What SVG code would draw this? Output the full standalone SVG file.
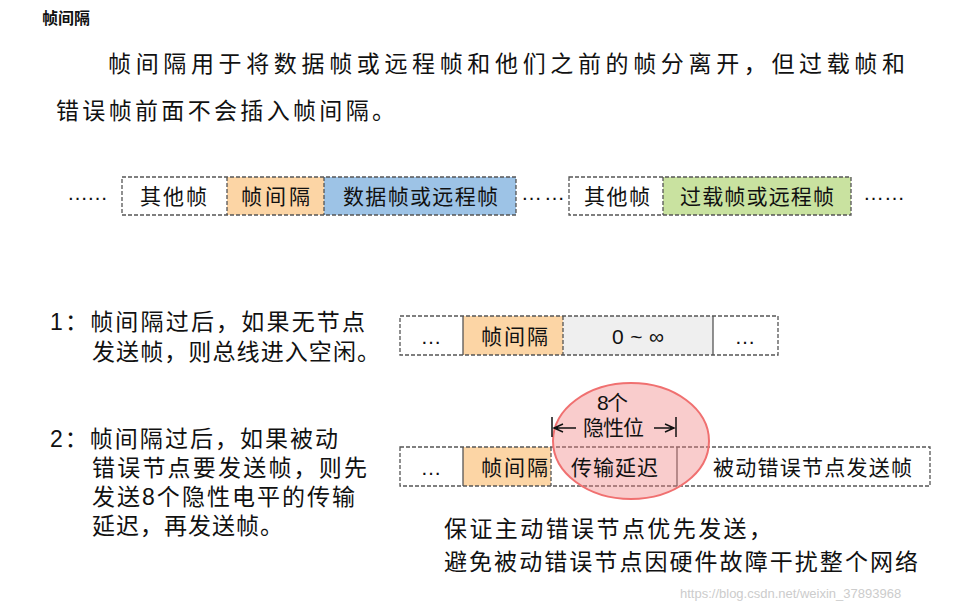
<svg xmlns="http://www.w3.org/2000/svg" width="962" height="613" viewBox="0 0 962 613">
<style>
text{font-family:"Liberation Sans","Noto Sans CJK SC",sans-serif;fill:#111}
.b{stroke:#555;stroke-width:1.3;stroke-dasharray:4 2}
.s{stroke:#555;stroke-width:1.3}
.t{font-size:21px}
.p{font-size:23px}
</style>
<rect width="962" height="613" fill="#fff"/>
<text x="42" y="24" font-size="16" font-weight="bold" font-family="Noto Sans CJK SC,serif">帧间隔</text>
<text x="108" y="72" class="p" font-size="24" textLength="797">帧间隔用于将数据帧或远程帧和他们之前的帧分离开，但过载帧和</text>
<text x="56" y="119" class="p" font-size="24" textLength="339">错误帧前面不会插入帧间隔。</text>
<g id="row0">
<rect x="227" y="177" width="97" height="38" fill="#fcd5a5"/>
<rect x="324" y="177" width="192" height="38" fill="#9dc3e6"/>
<rect x="663" y="177" width="188" height="38" fill="#c9e2a0"/>
<rect x="122" y="177" width="394" height="38" fill="none" class="b"/>
<rect x="569" y="177" width="282" height="38" fill="none" class="b"/>
<line x1="227" y1="177" x2="227" y2="215" class="b"/><line x1="324" y1="177" x2="324" y2="215" class="b"/><line x1="663" y1="177" x2="663" y2="215" class="b"/>
<text x="140" y="204" class="t" textLength="67">其他帧</text><text x="241" y="204" class="t" textLength="69">帧间隔</text><text x="343" y="204" class="t" textLength="155">数据帧或远程帧</text>
<text x="584" y="204" class="t" textLength="66">其他帧</text><text x="680" y="204" class="t" textLength="154">过载帧或远程帧</text>
<text x="67" y="200" class="t" textLength="41">……</text><text x="521" y="200" class="t" textLength="44">……</text><text x="863" y="200" class="t" textLength="42">……</text>
</g>
<text x="50" y="330" class="p" textLength="315">1：帧间隔过后，如果无节点</text>
<text x="92" y="360" class="p" textLength="288">发送帧，则总线进入空闲。</text>
<g id="row1">
<rect x="463" y="316" width="100" height="39" fill="#fcd5a5"/>
<rect x="563" y="316" width="150" height="39" fill="#efefef"/>
<rect x="400" y="316" width="378" height="39" fill="none" class="b"/>
<line x1="463" y1="316" x2="463" y2="355" class="s"/><line x1="563" y1="316" x2="563" y2="355" class="b"/><line x1="713" y1="316" x2="713" y2="355" class="s"/>
<text x="431" y="344" class="t" text-anchor="middle">…</text><text x="481" y="344" class="t" textLength="67">帧间隔</text><text x="612" y="344" class="t" textLength="52">0 ~ ∞</text><text x="745" y="344" class="t" text-anchor="middle">…</text>
</g>
<text x="50" y="447" class="p" textLength="288">2：帧间隔过后，如果被动</text>
<text x="92" y="476" class="p" textLength="275">错误节点要发送帧，则先</text>
<text x="92" y="505" class="p" textLength="263">发送8个隐性电平的传输</text>
<text x="92" y="534" class="p" textLength="191">延迟，再发送帧。</text>
<g id="row2">
<rect x="463" y="447" width="88" height="39" fill="#fcd5a5"/>
<rect x="400" y="447" width="530" height="39" fill="none" class="b"/>
<line x1="463" y1="447" x2="463" y2="486" class="s"/><line x1="551" y1="447" x2="551" y2="486" class="b"/><line x1="677" y1="447" x2="677" y2="486" class="s"/>
<text x="431" y="475" class="t" text-anchor="middle">…</text><text x="481" y="475" class="t" textLength="67">帧间隔</text>
<text x="713" y="475" class="t" textLength="199">被动错误节点发送帧</text>
</g>
<g id="bubble">
<ellipse cx="631" cy="441" rx="78" ry="58" fill="#f08080" fill-opacity="0.4" stroke="#f07070" stroke-width="2"/>
<text x="571" y="475" class="t" textLength="87">传输延迟</text>
<text x="597" y="410" class="t" textLength="31">8个</text>
<text x="583" y="435" class="t" textLength="61">隐性位</text>
<line x1="552" y1="417" x2="552" y2="437" stroke="#111" stroke-width="1.5"/>
<line x1="676" y1="417" x2="676" y2="437" stroke="#111" stroke-width="1.5"/>
<path d="M554 428H576M563 424L554 428L563 432M654 428H674M665 424L674 428L665 432" fill="none" stroke="#111" stroke-width="1.5"/>
</g>
<text x="444" y="537" class="p" textLength="328">保证主动错误节点优先发送，</text>
<text x="444" y="570" class="p" textLength="474">避免被动错误节点因硬件故障干扰整个网络</text>
<text x="680" y="598" font-size="13" style="fill:#ccc">https://blog.csdn.net/weixin_37893968</text>
</svg>
